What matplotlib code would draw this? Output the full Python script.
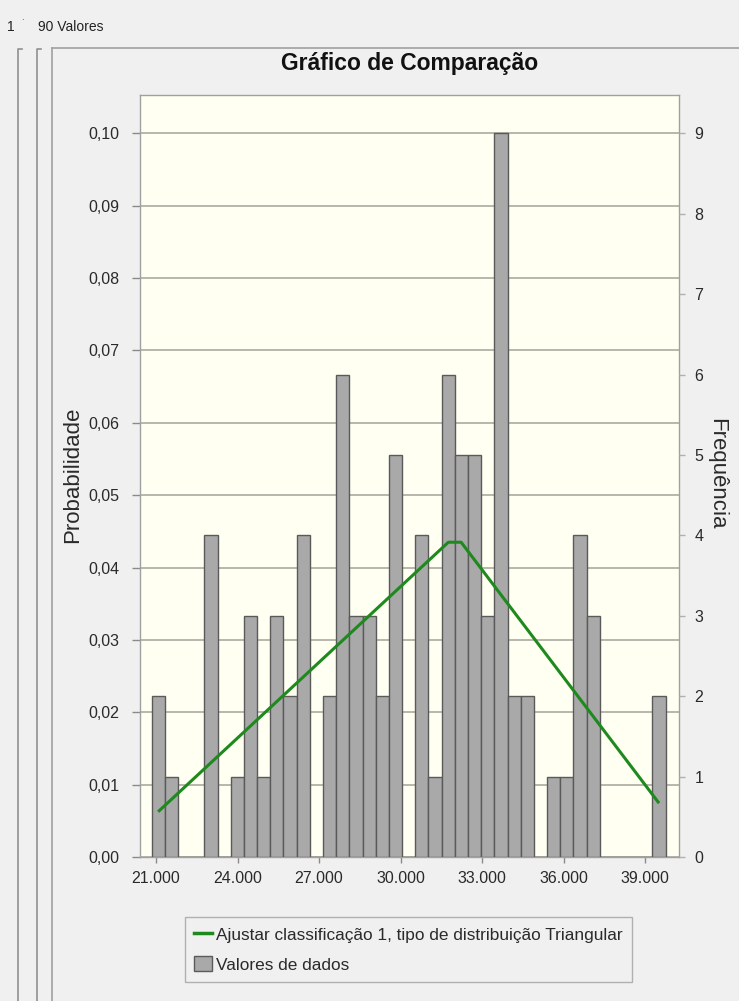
import numpy as np
import matplotlib
matplotlib.use("Agg")
import matplotlib.pyplot as plt
from matplotlib.lines import Line2D
from matplotlib.patches import Patch
from matplotlib.ticker import FuncFormatter

plt.rcParams['font.family'] = ['Liberation Sans', 'DejaVu Sans']

# ---------------- data ----------------
n_values = 90
first_bin_left = 20842
bin_width = 485
counts = [2, 1, 0, 0, 4, 0, 1, 3, 1, 3, 2, 4, 0, 2, 6, 3, 3, 2, 5, 0,
          4, 1, 6, 5, 5, 3, 9, 2, 2, 0, 1, 1, 4, 3, 0, 0, 0, 0, 2]
fit_x = [21120, 31760, 32230, 39480]
fit_prob = [0.0064, 0.0435, 0.0435, 0.0076]
x_ticks = [21000, 24000, 27000, 30000, 33000, 36000, 39000]
prob_ticks = [0.00, 0.01, 0.02, 0.03, 0.04, 0.05, 0.06, 0.07, 0.08, 0.09, 0.10]
freq_ticks = [0, 1, 2, 3, 4, 5, 6, 7, 8, 9]
title = "Gráfico de Comparação"
header = "90 Valores"
label_left = "Probabilidade"
label_right = "Frequência"
legend_fit = "Ajustar classificação 1, tipo de distribuição Triangular"
legend_bars = "Valores de dados"

# ---------------- figure ----------------
W, H = 739, 1001
fig = plt.figure(figsize=(W / 100, H / 100), dpi=100, facecolor='#f0f0f0')

def fx(px):
    return px / W

def fy(py):
    return 1 - py / H

ax_l, ax_r, ax_t, ax_b = 140, 679, 95, 857
ax = fig.add_axes([fx(ax_l), fy(ax_b), (ax_r - ax_l) / W, (ax_b - ax_t) / H])
ax.set_facecolor('#fffff2')

edges = first_bin_left + bin_width * np.arange(len(counts))
probs = np.array(counts) / n_values
ax.bar(edges, probs, width=bin_width, align='edge', color='#a9a9a9',
       edgecolor='#5a5a5a', linewidth=1.0, zorder=3)
ax.plot(fit_x, fit_prob, color='#1e8a1e', linewidth=2.2, zorder=4,
        solid_joinstyle='round')

ymax = 0.1053
ax.set_ylim(0, ymax)
ax.set_xlim(20411, 40249)
ax.set_yticks(prob_ticks)
ax.yaxis.set_major_formatter(FuncFormatter(lambda v, p: f"{v:.2f}".replace('.', ',')))
ax.set_xticks(x_ticks)
ax.xaxis.set_major_formatter(FuncFormatter(lambda v, p: f"{int(round(v)):,}".replace(',', '.')))
ax.grid(axis='y', color='#a3a39a', linewidth=1.1, zorder=1)
ax.set_axisbelow(True)
for s in ax.spines.values():
    s.set_color('#a0a0a0')
    s.set_linewidth(1.0)
ax.tick_params(axis='y', direction='out', length=6, width=1, color='#8a8a8a',
               labelsize=11.5, pad=9, labelcolor='#2a2a2a')
ax.tick_params(axis='x', direction='out', length=4, width=1, color='#8a8a8a',
               labelsize=11.5, pad=6, labelcolor='#2a2a2a')

ax2 = ax.twinx()
ax2.set_ylim(0, ymax * n_values)
ax2.set_yticks(freq_ticks)
ax2.tick_params(axis='y', direction='out', length=4, width=1, color='#b0b0b0',
                labelsize=11.5, pad=7, labelcolor='#2a2a2a')
for s in ax2.spines.values():
    s.set_visible(False)

# labels
fig.text(fx(73), fy(475), label_left, rotation=90, ha='center', va='center',
         fontsize=16, color='#2a2a2a')
fig.text(fx(717), fy(474), label_right, rotation=270, ha='center', va='center',
         fontsize=16, color='#2a2a2a')
fig.text(fx(410), fy(70), title, ha='center', va='baseline', fontsize=16.5,
         fontweight='bold', color='#111111')
fig.text(fx(7), fy(27), "1", ha='left', va='center', fontsize=10, color='#222222')
fig.text(fx(21), fy(24), "˙", ha='left', va='center', fontsize=8, color='#555555')
fig.text(fx(38), fy(27), header, ha='left', va='center', fontsize=10, color='#222222')

# frame lines
def fline(xs, ys, color='#a0a0a0', lw=1.2):
    fig.add_artist(Line2D([fx(x) for x in xs], [fy(y) for y in ys], color=color,
                          linewidth=lw, transform=fig.transFigure))

fline([52, 739], [47.5, 47.5])
fline([52, 52], [47.5, 1001])
fline([22, 18, 18, 18], [49, 49, 49, 1001], color='#909090')
fline([41, 37, 37, 37], [49, 49, 49, 1001], color='#909090')

# legend
handles = [Line2D([0], [0], color='#1e8a1e', linewidth=2.5),
           Patch(facecolor='#a9a9a9', edgecolor='#5a5a5a', linewidth=1.0)]
leg = fig.legend(handles, [legend_fit, legend_bars], loc='upper left',
                 bbox_to_anchor=(fx(185), fy(917)), frameon=True, fancybox=False,
                 fontsize=12.4, handlelength=1.0, handleheight=1.0, handletextpad=0.25,
                 labelspacing=0.75, borderpad=0.55, borderaxespad=0)
leg.get_frame().set_edgecolor('#a0a0a0')
leg.get_frame().set_facecolor('#f0f0f0')
leg.get_frame().set_linewidth(1.0)
for t in leg.get_texts():
    t.set_color('#2a2a2a')

fig.savefig('out.png', dpi=100, facecolor=fig.get_facecolor())
